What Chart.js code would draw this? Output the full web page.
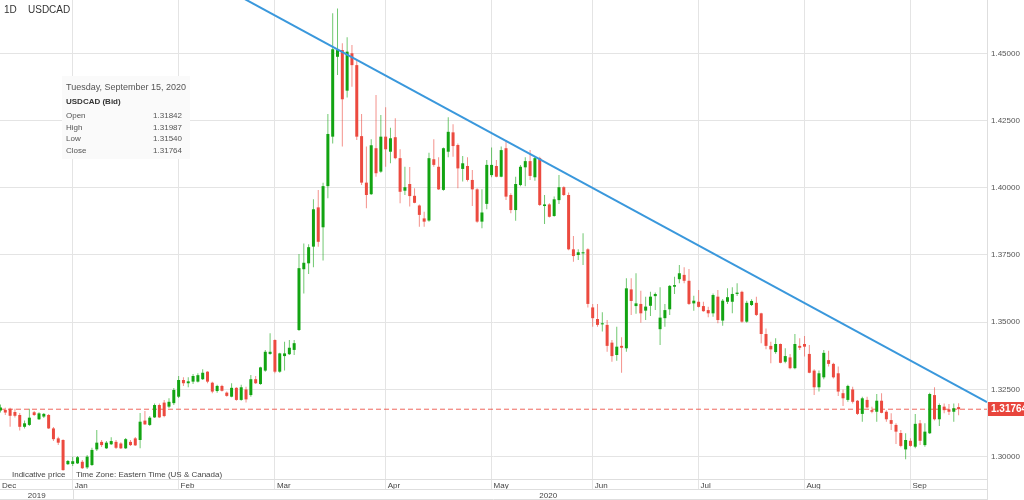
<!DOCTYPE html>
<html>
<head>
<meta charset="utf-8">
<script src="https://cdn.jsdelivr.net/npm/chart.js@4.4.1/dist/chart.umd.min.js"></script>
<style>
  html, body { margin: 0; padding: 0; background: #fff; overflow: hidden; }
  #wrap { width: 1024px; height: 500px; }
</style>
</head>
<body>
<div id="wrap"><canvas id="chart" width="1024" height="500"></canvas></div>
<script>
const symbol = "USDCAD";
const period = "1D";
const lastDate = "Tuesday, September 15, 2020";

// daily candles, mid Dec 2019 .. 15 Sep 2020
const opens = [
  1.3172,1.3174,1.3178,1.3166,1.3155,1.3111,1.3118,1.3165,1.3139,1.3149,
  1.3155,1.3105,1.3068,1.3062,1.2972,1.2973,1.2975,1.2981,1.2960,1.2969,
  1.3027,1.3055,1.3031,1.3046,1.3055,1.3049,1.3031,1.3055,1.3068,1.3062,
  1.3134,1.3118,1.3146,1.3192,1.3201,1.3186,1.3199,1.3223,1.3285,1.3273,
  1.3279,1.3279,1.3288,1.3316,1.3275,1.3244,1.3263,1.3238,1.3223,1.3256,
  1.3211,1.3250,1.3229,1.3288,1.3270,1.3320,1.3382,1.3434,1.3316,1.3374,
  1.3381,1.3397,1.3471,1.3697,1.3719,1.3781,1.3927,1.3853,1.4006,1.4190,
  1.4487,1.4512,1.4361,1.4500,1.4456,1.4192,1.4019,1.3976,1.4147,1.4060,
  1.4190,1.4134,1.4188,1.4110,1.3989,1.4014,1.3970,1.3934,1.3886,1.3878,
  1.4106,1.4078,1.3992,1.4134,1.4206,1.4159,1.4070,1.4081,1.4029,1.3994,
  1.3874,1.3940,1.4047,1.4081,1.4041,1.4147,1.3973,1.3917,1.4010,1.4076,
  1.4099,1.4039,1.4110,1.3932,1.3938,1.3895,1.3954,1.4002,1.3973,1.3771,
  1.3750,1.3756,1.3771,1.3555,1.3512,1.3492,1.3490,1.3424,1.3378,1.3412,
  1.3403,1.3622,1.3560,1.3568,1.3543,1.3561,1.3597,1.3474,1.3515,1.3548,
  1.3632,1.3660,1.3676,1.3654,1.3570,1.3576,1.3560,1.3545,1.3533,1.3595,
  1.3506,1.3576,1.3576,1.3605,1.3613,1.3502,1.3564,1.3572,1.3533,1.3456,
  1.3412,1.3389,1.3419,1.3353,1.3369,1.3329,1.3412,1.3419,1.3382,1.3320,
  1.3258,1.3295,1.3359,1.3345,1.3310,1.3236,1.3211,1.3250,1.3208,1.3159,
  1.3211,1.3173,1.3167,1.3208,1.3167,1.3136,1.3118,1.3088,1.3027,1.3059,
  1.3037,1.3124,1.3043,1.3087,1.3229,1.3139,1.3186,1.3176,1.3167,1.31842
];
const highs = [
  1.3194,1.3182,1.3182,1.3178,1.3162,1.3134,1.3178,1.3170,1.3165,1.3162,
  1.3159,1.3110,1.3074,1.3065,1.2988,1.3000,1.3002,1.2988,1.3006,1.3033,
  1.3099,1.3062,1.3058,1.3072,1.3062,1.3054,1.3069,1.3062,1.3073,1.3162,
  1.3170,1.3151,1.3198,1.3198,1.3211,1.3217,1.3255,1.3300,1.3295,1.3295,
  1.3307,1.3310,1.3325,1.3318,1.3279,1.3267,1.3267,1.3242,1.3273,1.3258,
  1.3267,1.3260,1.3304,1.3300,1.3334,1.3397,1.3459,1.3436,1.3386,1.3427,
  1.3434,1.3434,1.3754,1.3793,1.3790,1.3957,1.3992,1.4019,1.4274,1.4649,
  1.4667,1.4537,1.4560,1.4531,1.4475,1.4274,1.4153,1.4180,1.4345,1.4271,
  1.4299,1.4223,1.4258,1.4143,1.4078,1.4077,1.3998,1.3938,1.3911,1.4130,
  1.4180,1.4113,1.4150,1.4262,1.4236,1.4165,1.4118,1.4113,1.4066,1.3998,
  1.3994,1.4103,1.4150,1.4103,1.4153,1.4178,1.3980,1.4041,1.4085,1.4113,
  1.4140,1.4115,1.4115,1.3973,1.3942,1.3967,1.4047,1.4006,1.3982,1.3821,
  1.3771,1.3831,1.3775,1.3568,1.3568,1.3537,1.3508,1.3434,1.3483,1.3444,
  1.3663,1.3663,1.3682,1.3617,1.3595,1.3613,1.3610,1.3630,1.3568,1.3638,
  1.3669,1.3713,1.3704,1.3698,1.3598,1.3620,1.3576,1.3557,1.3607,1.3620,
  1.3586,1.3626,1.3630,1.3645,1.3617,1.3580,1.3585,1.3595,1.3535,1.3477,
  1.3427,1.3440,1.3421,1.3403,1.3382,1.3456,1.3440,1.3449,1.3415,1.3325,
  1.3320,1.3397,1.3394,1.3349,1.3335,1.3250,1.3267,1.3260,1.3211,1.3223,
  1.3223,1.3186,1.3233,1.3236,1.3173,1.3161,1.3124,1.3099,1.3087,1.3068,
  1.3159,1.3136,1.3124,1.3238,1.3258,1.3198,1.3198,1.3196,1.3198,1.31987
];
const lows = [
  1.3164,1.3155,1.3111,1.3146,1.3097,1.3105,1.3114,1.3151,1.3136,1.3144,
  1.3103,1.3058,1.3043,1.2948,1.2969,1.2965,1.2973,1.2954,1.2954,1.2965,
  1.3021,1.3036,1.3028,1.3043,1.3028,1.3028,1.3028,1.3040,1.3040,1.3031,
  1.3118,1.3114,1.3144,1.3144,1.3147,1.3181,1.3192,1.3218,1.3263,1.3258,
  1.3270,1.3276,1.3285,1.3273,1.3236,1.3238,1.3242,1.3223,1.3221,1.3208,
  1.3208,1.3201,1.3223,1.3270,1.3267,1.3316,1.3379,1.3310,1.3312,1.3320,
  1.3378,1.3378,1.3467,1.3607,1.3679,1.3704,1.3781,1.3729,1.3961,1.4165,
  1.4419,1.4153,1.4336,1.4376,1.4178,1.4010,1.3924,1.3973,1.4041,1.4056,
  1.4078,1.4091,1.4106,1.3942,1.3973,1.3930,1.3942,1.3855,1.3855,1.3874,
  1.4078,1.3992,1.3989,1.4113,1.4115,1.3998,1.4023,1.4023,1.3932,1.3870,
  1.3849,1.3920,1.4039,1.4039,1.4039,1.3954,1.3905,1.3877,1.4006,1.4006,
  1.4029,1.4026,1.3932,1.3865,1.3889,1.3892,1.3940,1.3969,1.3768,1.3725,
  1.3731,1.3713,1.3555,1.3483,1.3483,1.3465,1.3390,1.3353,1.3357,1.3312,
  1.3390,1.3527,1.3531,1.3498,1.3508,1.3523,1.3545,1.3415,1.3483,1.3527,
  1.3605,1.3645,1.3645,1.3564,1.3543,1.3555,1.3539,1.3518,1.3520,1.3496,
  1.3487,1.3568,1.3533,1.3597,1.3498,1.3498,1.3560,1.3523,1.3422,1.3399,
  1.3347,1.3383,1.3347,1.3347,1.3325,1.3325,1.3397,1.3372,1.3310,1.3229,
  1.3242,1.3288,1.3335,1.3291,1.3226,1.3188,1.3204,1.3198,1.3155,1.3130,
  1.3180,1.3161,1.3130,1.3161,1.3130,1.3099,1.3047,1.3035,1.2990,1.3037,
  1.3031,1.3043,1.3037,1.3084,1.3134,1.3114,1.3161,1.3155,1.3130,1.31540
];
const closes = [
  1.3183,1.3164,1.3152,1.3152,1.3111,1.3124,1.3145,1.3155,1.3161,1.3159,
  1.3105,1.3065,1.3052,1.2950,1.2984,1.2983,1.2998,1.2957,1.3000,1.3025,
  1.3052,1.3043,1.3052,1.3058,1.3033,1.3031,1.3065,1.3043,1.3042,1.3130,
  1.3120,1.3145,1.3192,1.3146,1.3151,1.3204,1.3248,1.3285,1.3273,1.3280,
  1.3300,1.3303,1.3312,1.3279,1.3242,1.3263,1.3245,1.3226,1.3256,1.3211,
  1.3258,1.3213,1.3288,1.3273,1.3332,1.3390,1.3390,1.3316,1.3384,1.3384,
  1.3405,1.3422,1.3701,1.3721,1.3779,1.3920,1.3799,1.4006,1.4200,1.4515,
  1.4512,1.4329,1.4506,1.4456,1.4190,1.4019,1.3973,1.4158,1.4054,1.4190,
  1.4143,1.4184,1.4110,1.3985,1.4002,1.3969,1.3944,1.3899,1.3874,1.4110,
  1.4085,1.3994,1.4147,1.4208,1.4155,1.4072,1.4091,1.4029,1.3994,1.3874,
  1.3908,1.4085,1.4085,1.4041,1.4140,1.3967,1.3917,1.4014,1.4078,1.4099,
  1.4044,1.4110,1.3936,1.3938,1.3892,1.3957,1.4002,1.3973,1.3771,1.3746,
  1.3760,1.3760,1.3568,1.3515,1.3490,1.3496,1.3412,1.3374,1.3409,1.3405,
  1.3626,1.3579,1.3570,1.3533,1.3558,1.3595,1.3605,1.3517,1.3545,1.3635,
  1.3638,1.3682,1.3654,1.3568,1.3580,1.3557,1.3541,1.3533,1.3601,1.3508,
  1.3580,1.3593,1.3605,1.3610,1.3502,1.3572,1.3579,1.3527,1.3456,1.3412,
  1.3399,1.3419,1.3349,1.3374,1.3329,1.3419,1.3405,1.3409,1.3312,1.3258,
  1.3310,1.3386,1.3345,1.3295,1.3242,1.3217,1.3263,1.3204,1.3159,1.3217,
  1.3183,1.3167,1.3208,1.3163,1.3139,1.3122,1.3093,1.3040,1.3062,1.3040,
  1.3122,1.3059,1.3093,1.3233,1.3139,1.3192,1.3173,1.3167,1.3180,1.31764
];

// month ticks: first trading day index of each month
const monthNames = ["Dec", "Jan", "Feb", "Mar", "Apr", "May", "Jun", "Jul", "Aug", "Sep"];
const monthStart = [-0.1, 15, 37, 57, 80, 102, 123, 145, 167, 189];
const yearNames = ["2019", "2020"];
const yTicks = [1.300, 1.325, 1.350, 1.375, 1.400, 1.425, 1.450];

// resistance line drawn on the chart (index, price)
const trendX = [40, 204.9];
const trendY = [1.4806, 1.3203];

const X_MIN = -0.1, X_MAX = 204.9;
const Y_MIN = 1.29169, Y_MAX = 1.46982;

const UP = "#12a412", DOWN = "#ec4a3f";
const UP_WICK = "rgba(18,164,18,0.6)", DOWN_WICK = "rgba(236,74,63,0.6)";
const GRID = "#e4e4e4";
const FONT = "Arial, 'Liberation Sans', sans-serif";

Chart.defaults.font.family = FONT;

const last = closes.length - 1;
const isUp = i => closes[i] >= opens[i];

const wickData = opens.map((o, i) => ({ x: i, y: [lows[i], highs[i]] }));
const bodyData = opens.map((o, i) => ({ x: i, y: [Math.min(o, closes[i]), Math.max(o, closes[i])] }));

const decor = {
  id: "decor",
  afterDraw(c) {
    const { ctx, chartArea: a, scales: { x, y } } = c;
    const row1 = a.bottom + 11;
    const janPx = Math.round(x.getPixelForValue(monthStart[1])) + 0.5;
    ctx.save();

    // date rows under the plot
    ctx.strokeStyle = "#dedede";
    ctx.lineWidth = 1;
    ctx.beginPath();
    ctx.moveTo(a.left, row1 - 0.5); ctx.lineTo(a.right, row1 - 0.5);
    ctx.moveTo(a.left, 499.5); ctx.lineTo(a.right, 499.5);
    ctx.moveTo(janPx, row1); ctx.lineTo(janPx, 500);
    ctx.moveTo(Math.round(a.right) + 0.5, a.bottom); ctx.lineTo(Math.round(a.right) + 0.5, 500);
    ctx.stroke();

    ctx.fillStyle = "#444";
    ctx.font = "8px " + FONT;
    ctx.textAlign = "center";
    ctx.textBaseline = "alphabetic";
    ctx.fillText(yearNames[0], (a.left + janPx) / 2, 498);
    ctx.fillText(yearNames[1], (janPx + a.right) / 2 + 18, 498);

    // last price tag
    const py = Math.round(y.getPixelForValue(closes[last]));
    ctx.fillStyle = "#e8453c";
    ctx.fillRect(Math.round(a.right) + 1, py - 7, 40, 14);
    ctx.fillStyle = "#fff";
    ctx.font = "bold 10px " + FONT;
    ctx.textAlign = "left";
    ctx.textBaseline = "middle";
    ctx.fillText(closes[last].toFixed(5), a.right + 4, py + 0.5);

    // title
    ctx.fillStyle = "#333";
    ctx.font = "10px " + FONT;
    ctx.textBaseline = "alphabetic";
    ctx.fillText(period, 4, 13);
    ctx.fillText(symbol, 28, 13);

    // info box for the last candle
    ctx.fillStyle = "#fafafa";
    ctx.fillRect(62, 76, 128, 83);
    ctx.fillStyle = "#555";
    ctx.font = "9px " + FONT;
    ctx.fillText(lastDate, 66, 90);
    ctx.fillStyle = "#333";
    ctx.font = "bold 8px " + FONT;
    ctx.fillText(symbol + " (Bid)", 66, 104);
    const rows = [["Open", opens[last]], ["High", highs[last]], ["Low", lows[last]], ["Close", closes[last]]];
    ctx.font = "8px " + FONT;
    ctx.fillStyle = "#555";
    rows.forEach(([k, v], i) => {
      const by = 118 + i * 11.5;
      ctx.textAlign = "left";
      ctx.fillText(k, 66, by);
      ctx.textAlign = "right";
      ctx.fillText(v.toFixed(5), 182, by);
    });

    // footnotes
    ctx.textAlign = "left";
    ctx.fillStyle = "#444";
    ctx.fillText("Indicative price", 12, 477);
    ctx.fillText("Time Zone: Eastern Time (US & Canada)", 76, 477);
    ctx.restore();
  }
};

new Chart(document.getElementById("chart"), {
  type: "bar",
  data: {
    datasets: [
      {
        type: "line",
        data: trendX.map((v, i) => ({ x: v, y: trendY[i] })),
        borderColor: "#3a98dc",
        borderWidth: 2,
        pointRadius: 0,
        order: 0
      },
      {
        data: bodyData,
        backgroundColor: bodyData.map((d, i) => isUp(i) ? UP : DOWN),
        grouped: false,
        maxBarThickness: 3,
        minBarLength: 1,
        order: 1
      },
      {
        data: wickData,
        backgroundColor: wickData.map((d, i) => isUp(i) ? UP_WICK : DOWN_WICK),
        grouped: false,
        maxBarThickness: 1,
        order: 2
      },
      {
        type: "line",
        data: [{ x: X_MIN, y: closes[last] }, { x: X_MAX, y: closes[last] }],
        borderColor: "rgba(236,75,65,0.85)",
        borderWidth: 1,
        borderDash: [5, 3],
        pointRadius: 0,
        order: 3
      }
    ]
  },
  options: {
    responsive: false,
    animation: false,
    layout: { padding: 0 },
    plugins: { legend: { display: false }, tooltip: { enabled: false } },
    scales: {
      x: {
        type: "linear",
        min: X_MIN,
        max: X_MAX,
        offset: false,
        afterBuildTicks: ax => { ax.ticks = monthStart.map(v => ({ value: v })); },
        afterFit: ax => { ax.height = 21; ax.paddingLeft = 0; ax.paddingRight = 0; },
        grid: {
          offset: false,
          color: c => c.index === 0 ? "rgba(0,0,0,0)" : GRID,
          tickLength: 11,
          drawTicks: true
        },
        border: { color: "#dedede" },
        ticks: {
          callback: (v, i) => monthNames[i],
          autoSkip: false,
          maxRotation: 0,
          align: "start",
          labelOffset: 2,
          padding: -9.5,
          color: "#444",
          font: { size: 8 }
        }
      },
      y: {
        position: "right",
        min: Y_MIN,
        max: Y_MAX,
        afterBuildTicks: ax => { ax.ticks = yTicks.map(v => ({ value: v })); },
        afterFit: ax => { ax.width = 37; ax.paddingTop = 0; ax.paddingBottom = 0; },
        grid: { color: GRID, drawTicks: false },
        border: { color: "#dedede" },
        ticks: {
          callback: v => v.toFixed(5),
          padding: 4,
          color: "#555",
          font: { size: 8 }
        }
      }
    }
  },
  plugins: [decor]
});
</script>
</body>
</html>
